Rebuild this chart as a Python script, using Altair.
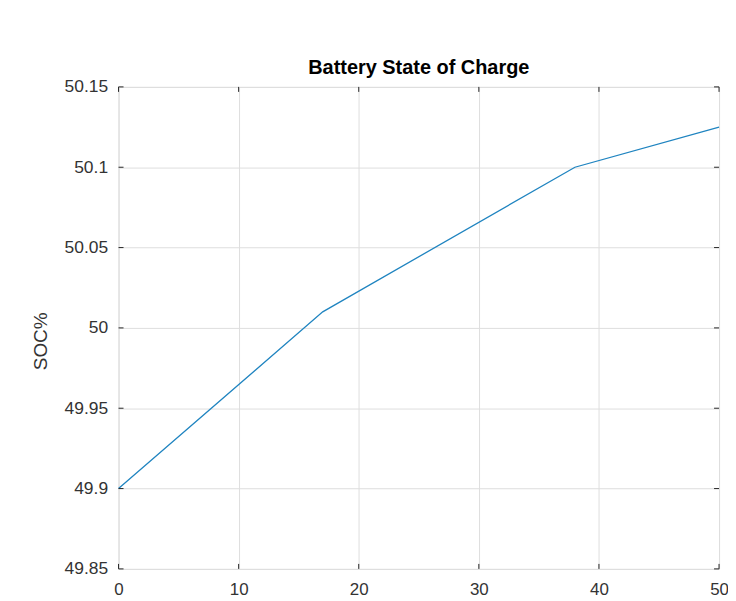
import altair as alt
import pandas as pd

time_s = [0, 17, 38, 50]
soc_pct = [49.9, 50.01, 50.1, 50.125]
x_ticks = [0, 10, 20, 30, 40, 50]
y_ticks = [49.85, 49.9, 49.95, 50.0, 50.05, 50.1, 50.15]

W, H = 603, 484
TICK = 5
FRAME = "#262626"

df = pd.DataFrame({"t": time_s, "soc": soc_pct})
xt = pd.DataFrame({"t": x_ticks})
yt = pd.DataFrame({"soc": y_ticks})

xscale = alt.Scale(domain=[0, 50], nice=False, zero=False)
yscale = alt.Scale(domain=[49.85, 50.15], nice=False, zero=False)

xaxis = alt.Axis(values=x_ticks, format="d", title=None, grid=True, gridColor="#dedede",
                 gridWidth=1, tickSize=0, labelPadding=13, labelFontSize=17,
                 labelColor="#333333", labelFont="Liberation Sans", domain=False,
                 labelFlush=False)
yaxis = alt.Axis(values=y_ticks, labelExpr="format(datum.value, '.4~f')", title="SOC%",
                 grid=True, gridColor="#dedede", gridWidth=1, tickSize=0, labelPadding=11,
                 labelFontSize=17.5, labelColor="#333333", labelFont="Liberation Sans",
                 titleFontSize=19, titleFont="Liberation Sans", titleFontWeight="normal",
                 titleColor="#333333", titlePadding=14, titleY=255, domain=False,
                 labelFlush=False)

line = alt.Chart(df).mark_line(color="#1f84c0", strokeWidth=1.3).encode(
    x=alt.X("t:Q", scale=xscale, axis=xaxis),
    y=alt.Y("soc:Q", scale=yscale, axis=yaxis),
)

bt = alt.Chart(xt).mark_rule(color=FRAME, strokeWidth=1).encode(
    x=alt.X("t:Q", scale=xscale), y=alt.value(H), y2=alt.value(H - TICK))
tt = alt.Chart(xt).mark_rule(color=FRAME, strokeWidth=1).encode(
    x=alt.X("t:Q", scale=xscale), y=alt.value(0), y2=alt.value(TICK))
lt = alt.Chart(yt).mark_rule(color=FRAME, strokeWidth=1).encode(
    y=alt.Y("soc:Q", scale=yscale), x=alt.value(0), x2=alt.value(TICK))
rt = alt.Chart(yt).mark_rule(color=FRAME, strokeWidth=1).encode(
    y=alt.Y("soc:Q", scale=yscale), x=alt.value(W), x2=alt.value(W - TICK))

chart = alt.layer(line, bt, tt, lt, rt).properties(
    width=W, height=H,
    title=alt.TitleParams("Battery State of Charge", fontSize=20, fontWeight="bold",
                          font="Liberation Sans", color="#000000", anchor="middle", offset=0),
    autosize=alt.AutoSizeParams(type="none"),
    padding={"left": 111, "top": 78, "right": 9, "bottom": 30},
).configure_view(stroke=FRAME, strokeWidth=1.2).configure(background="white")

chart.save("out.html", embed_options={"renderer": "svg", "actions": False})
